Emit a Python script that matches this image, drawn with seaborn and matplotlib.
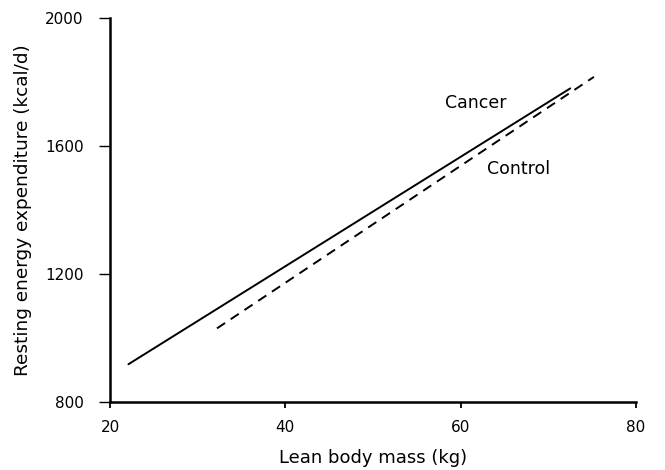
import matplotlib
matplotlib.use("Agg")
import matplotlib.pyplot as plt
import seaborn as sns
import pandas as pd

# Data
groups = ["Cancer", "Cancer", "Control", "Control"]
lean_mass = [22.1, 72.5, 32.2, 75.2]
ree = [918, 1780, 1030, 1816]

x_ticks = [20, 40, 60, 80]
y_ticks = [800, 1200, 1600, 2000]

label_names = ["Cancer", "Control"]
label_x = [58.2, 63.0]
label_y = [1734, 1528]

sns.set_theme(style="ticks")
plt.rcParams["font.family"] = ["DejaVu Sans"]
plt.rcParams["text.color"] = "black"
plt.rcParams["axes.labelcolor"] = "black"
plt.rcParams["xtick.color"] = "black"
plt.rcParams["ytick.color"] = "black"

df = pd.DataFrame({"group": groups, "mass": lean_mass, "ree": ree})

fig = plt.figure(figsize=(6.65, 4.70), dpi=100)
ax = fig.add_axes([110 / 665, 68 / 470, 526 / 665, 384 / 470])

sns.lineplot(data=df, x="mass", y="ree", hue="group", style="group",
             palette={"Cancer": "black", "Control": "black"},
             dashes={"Cancer": "", "Control": (5, 3.5)},
             linewidth=1.4, legend=False, ax=ax, estimator=None, sort=False)

for name, tx, ty in zip(label_names, label_x, label_y):
    ax.text(tx, ty, name, fontsize=12.5, color="black", va="center", ha="left")

ax.set_xlim(20, 80)
ax.set_ylim(800, 2000)
ax.set_xticks(x_ticks)
ax.set_yticks(y_ticks)
ax.set_xlabel("Lean body mass (kg)", fontsize=13, labelpad=10, color="black")
ax.set_ylabel("Resting energy expenditure (kcal/d)", fontsize=13.3, labelpad=9,
              color="black")
ax.tick_params(axis="both", labelsize=11, color="black", labelcolor="black",
               direction="out")
ax.tick_params(axis="x", length=4, width=1.3, pad=9)
ax.tick_params(axis="y", length=8, width=1.0, pad=11)
for s in ["top", "right"]:
    ax.spines[s].set_visible(False)
for s in ["left", "bottom"]:
    ax.spines[s].set_linewidth(1.8)
    ax.spines[s].set_color("black")

fig.savefig("out.png", dpi=100)
